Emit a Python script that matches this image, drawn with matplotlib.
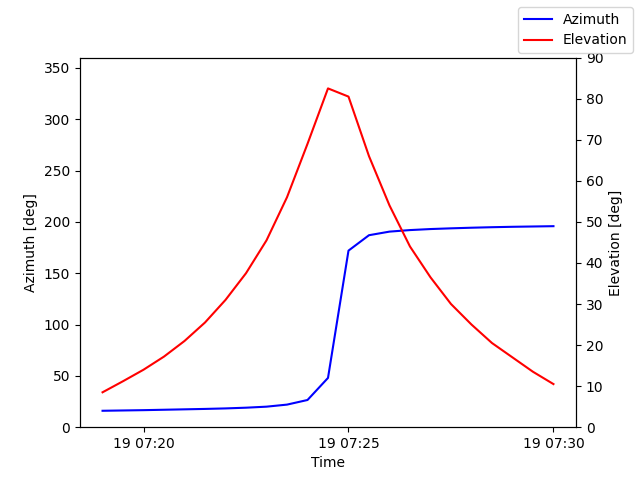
import datetime as dt
import matplotlib
matplotlib.use("Agg")
import matplotlib.pyplot as plt
import matplotlib.dates as mdates

start = dt.datetime(2024, 1, 19, 7, 19, 0)
times = [start + dt.timedelta(seconds=30 * i) for i in range(23)]

azimuth = [16, 16.3, 16.6, 17, 17.4, 17.8, 18.3, 19, 20, 22, 26.5, 48,
           172, 187, 190.5, 192, 193, 193.7, 194.3, 194.8, 195.2, 195.5, 195.8]
elevation = [8.5, 11.2, 14, 17.2, 21, 25.5, 31, 37.5, 45.5, 56, 69, 82.5,
             80.5, 66, 54, 44, 36.5, 30, 25, 20.5, 17, 13.5, 10.5]

fig, ax = plt.subplots(figsize=(6.4, 4.8), dpi=100)
ax.plot(times, azimuth, color='blue', label='Azimuth')
ax.set_ylim(0, 360)
ax.set_ylabel('Azimuth [deg]')
ax.set_xlabel('Time')

ax2 = ax.twinx()
ax2.plot(times, elevation, color='red', label='Elevation')
ax2.set_ylim(0, 90)
ax2.set_ylabel('Elevation [deg]')

ax.xaxis.set_major_locator(mdates.MinuteLocator(byminute=[20, 25, 30]))
ax.xaxis.set_major_formatter(mdates.DateFormatter('%d %H:%M'))

fig.legend(loc='upper right')
fig.savefig('out.png')
